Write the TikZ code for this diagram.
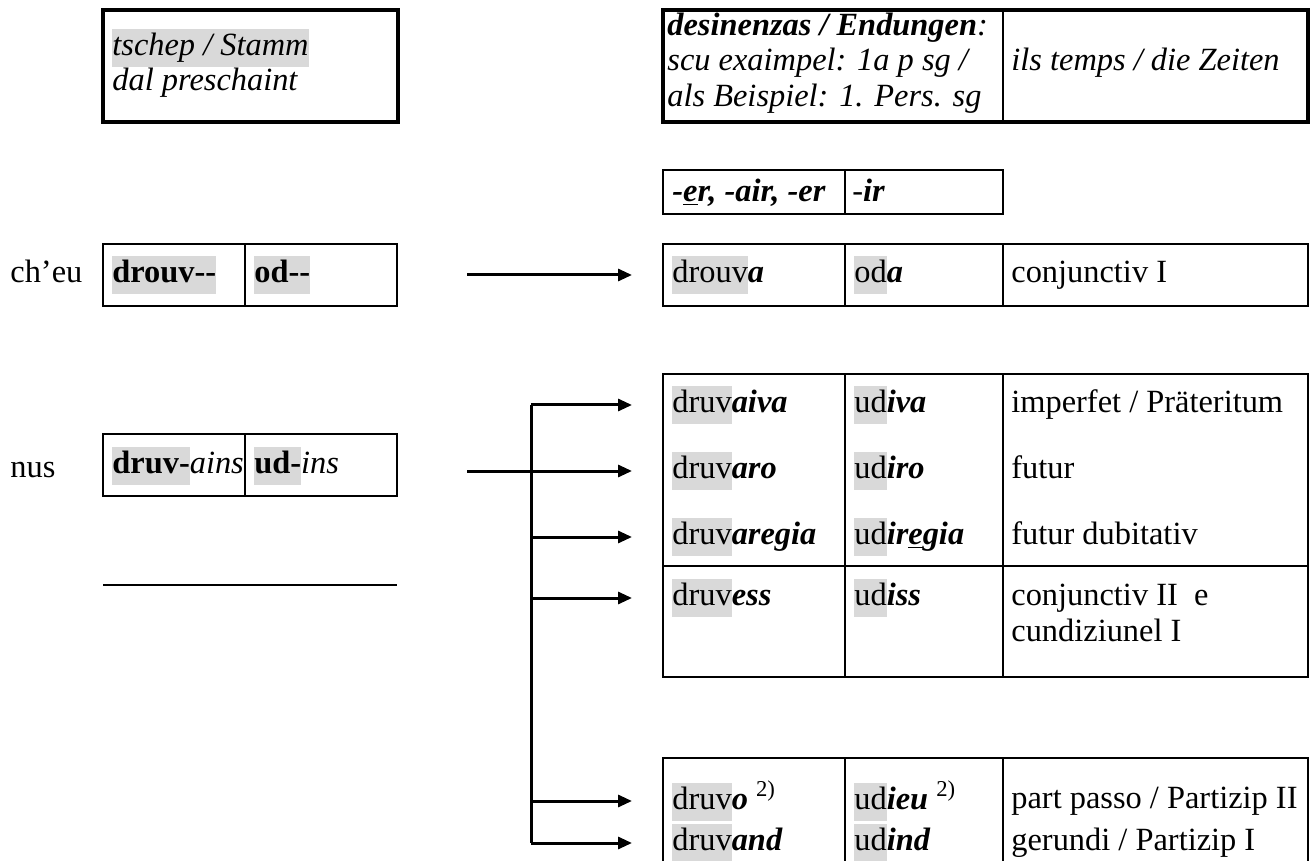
\documentclass[tikz,border=0pt]{standalone}
\usepackage{fontspec}
\setmainfont{Liberation Serif}
\usepackage{xcolor}
\usetikzlibrary{arrows.meta, positioning}

\definecolor{stemgray}{HTML}{D9D9D9}
\newcommand{\stem}[1]{{\setlength{\fboxsep}{0pt}\colorbox{stemgray}{\strut#1}}}
\newcommand{\bi}[1]{\textbf{\textit{#1}}}

\begin{document}
\begin{tikzpicture}[
    x=0.5pt, y=-0.5pt,
    txt/.style={anchor=west, inner sep=0pt, font=\fontsize{16.2}{18.8}\selectfont, execute at begin node=\strut},
    cell/.style={line width=0.75pt},
    thickbox/.style={line width=2pt},
    forkline/.style={line width=1.5pt},
    arrow/.style={-{Triangle[length=7pt,width=6pt]}, line width=1.5pt, shorten >=20pt}
]
\useasboundingbox (0,0) rectangle (1313,861);

% Header boxes
\draw[thickbox] (103,10) rectangle (398,122);
\node[txt] (stamm) at (112,48) {\itshape\stem{tschep / Stamm}};
\node[txt] (preschaint) at (112,83) {\itshape dal preschaint};

\draw[thickbox] (663,10) rectangle (1308,122);
\draw[cell] (1003,10) -- (1003,122);
\node[txt] (endungen) at (667,28) {\bi{desinenzas / Endungen}\textit{:}};
\node[txt] (exaimpel) at (667,63) {\textit{scu exaimpel: 1a p sg /}};
\node[txt] (beispiel) at (667,99) {\textit{als Beispiel: 1. Pers. sg}};
\node[txt] (zeiten) at (1011,63) {\textit{ils temps / die Zeiten}};

% Verb classes
\draw[cell] (663,170) rectangle (1003,214);
\draw[cell] (845,170) -- (845,214);
\node[txt] (er) at (672,194) {\bi{-\underline{e}r, -air, -er}};
\node[txt] (ir) at (852,194) {\textit{-}\bi{ir}};

% ch'eu
\node[txt] (cheu) at (10,275) {ch’eu};
\draw[cell] (103,244) rectangle (397,306);
\draw[cell] (245,244) -- (245,306);
\node[txt] (drouvstem) at (112,275) {\stem{\textbf{drouv-{}-}}};
\node[txt] (odstem) at (254,275) {\stem{\textbf{od-{}-}}};

\draw[cell] (663,244) rectangle (1308,306);
\draw[cell] (845,244) -- (845,306);
\draw[cell] (1003,244) -- (1003,306);
\node[txt] (drouva) at (672,275) {\stem{drouv}\bi{a}};
\node[txt] (oda) at (854,275) {\stem{od}\bi{a}};
\node[txt] (conjI) at (1011,275) {conjunctiv I};

% nus
\node[txt] (nus) at (10,470) {nus};
\draw[cell] (103,434) rectangle (397,496);
\draw[cell] (245,434) -- (245,496);
\node[txt] (druvstem) at (112,466) {\stem{\textbf{druv-}}\textit{ains}};
\node[txt] (udstem) at (254,466) {\stem{\textbf{ud-}}\textit{ins}};
\draw[cell] (103,585) -- (397,585);

% Tenses
\draw[cell] (663,374) rectangle (1308,677);
\draw[cell] (845,374) -- (845,677);
\draw[cell] (1003,374) -- (1003,677);
\draw[cell] (663,566) -- (1308,566);
\node[txt] (aiva) at (672,405) {\stem{druv}\bi{aiva}};
\node[txt] (iva) at (854,405) {\stem{ud}\bi{iva}};
\node[txt] (imperfet) at (1011,405) {imperfet / Präteritum};
\node[txt] (aro) at (672,471) {\stem{druv}\bi{aro}};
\node[txt] (iro) at (854,471) {\stem{ud}\bi{iro}};
\node[txt] (futur) at (1011,471) {futur};
\node[txt] (aregia) at (672,537) {\stem{druv}\bi{aregia}};
\node[txt] (iregia) at (854,537) {\stem{ud}\bi{ir\underline{e}gia}};
\node[txt] (dubitativ) at (1011,537) {futur dubitativ};
\node[txt] (ess) at (672,598) {\stem{druv}\bi{ess}};
\node[txt] (iss) at (854,598) {\stem{ud}\bi{iss}};
\node[txt] (conjII) at (1011,598) {conjunctiv II\ \ e};
\node[txt] (cundiziunel) at (1011,634) {cundiziunel I};

% Participles
\draw[cell] (663,866) -- (663,758) -- (1308,758) -- (1308,866);
\draw[cell] (845,758) -- (845,866);
\draw[cell] (1003,758) -- (1003,866);
\node[txt] (partpasso) at (672,801) {\stem{druv}\bi{o} \textsuperscript{2)}};
\node[txt] (ieu) at (854,801) {\stem{ud}\bi{ieu} \textsuperscript{2)}};
\node[txt] (partizipII) at (1011,801) {part passo / Partizip II};
\node[txt] (gerund) at (672,843) {\stem{druv}\bi{and}};
\node[txt] (ind) at (854,843) {\stem{ud}\bi{ind}};
\node[txt] (partizipI) at (1011,843) {gerundi / Partizip I};

% Arrows
\coordinate (cheu out) at (467,275);
\coordinate (nus out) at (467,471);
\coordinate (fork top) at (531,405);
\coordinate (fork bot) at (531,843);
\draw[arrow] (cheu out) -- (drouva.west);
\draw[forkline] (fork top) -- (fork bot);
\draw[arrow] (nus out) -- (aro.west);
\foreach \row in {aiva, aregia, ess, partpasso, gerund}
  \draw[arrow] (fork top |- \row.west) -- (\row.west);

\end{tikzpicture}
\end{document}
